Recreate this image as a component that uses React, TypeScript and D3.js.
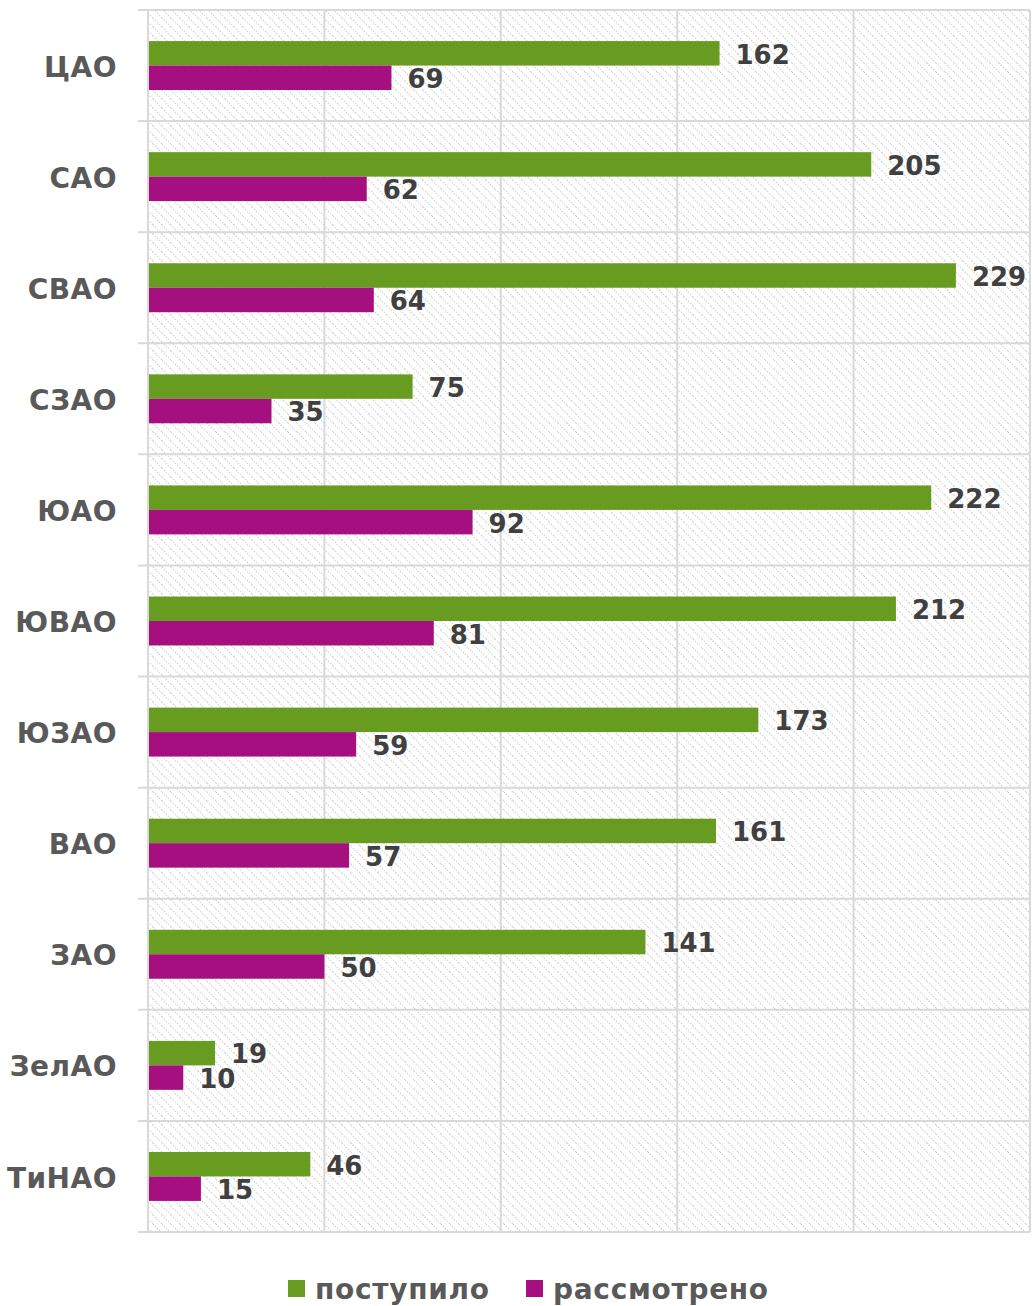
//grouped horizontal bar chart by district, drawn with d3
import React, { useEffect, useRef } from 'react';
import * as d3 from 'd3';

const districts = ['ЦАО', 'САО', 'СВАО', 'СЗАО', 'ЮАО', 'ЮВАО', 'ЮЗАО', 'ВАО', 'ЗАО', 'ЗелАО', 'ТиНАО'];
const received = [162, 205, 229, 75, 222, 212, 173, 161, 141, 19, 46];
const reviewed = [69, 62, 64, 35, 92, 81, 59, 57, 50, 10, 15];
const seriesNames = ['поступило', 'рассмотрено'];
const seriesColors = ['#689c20', '#a50f80'];
const xTicks = [0, 50, 100, 150, 200, 250];

const FONT = '"DejaVu Sans", sans-serif';

const App = () => {
    const ref = useRef<SVGSVGElement>(null);

    useEffect(() => {
        const svg = d3.select(ref.current);
        svg.selectAll('*').remove();

        const left = 148, right = 1030, top = 10, bottom = 1232;

        //hatched background
        const pat = svg.append('defs').append('pattern')
            .attr('id', 'hatch')
            .attr('patternUnits', 'userSpaceOnUse')
            .attr('width', 9).attr('height', 9);
        pat.append('rect').attr('width', 9).attr('height', 9).attr('fill', '#fff');
        pat.append('path')
            .attr('d', 'M-2,-2 L11,11 M-2,7 L2,11 M7,-2 L11,2')
            .attr('stroke', '#d6d6d6')
            .attr('stroke-width', 1.3)
            .attr('stroke-dasharray', '1.4 1.4');

        svg.append('rect')
            .attr('x', left).attr('y', top)
            .attr('width', right - left).attr('height', bottom - top)
            .attr('fill', 'url(#hatch)');

        const x = d3.scaleLinear().domain([0, 250]).range([left, right]);
        const y = d3.scaleBand().domain(districts).range([top, bottom]);
        const inner = d3.scaleBand().domain(seriesNames).range([0, y.bandwidth()]).paddingOuter(1.27);

        const grid = svg.append('g').attr('stroke', '#d9d9d9').attr('stroke-width', 2);
        //vertical gridlines
        xTicks.forEach(t => {
            grid.append('line').attr('x1', x(t)).attr('x2', x(t)).attr('y1', top).attr('y2', bottom);
        });
        //category separators
        districts.forEach(d => {
            grid.append('line').attr('x1', left - 10).attr('x2', right).attr('y1', y(d)!).attr('y2', y(d)!);
        });
        grid.append('line').attr('x1', left - 10).attr('x2', right).attr('y1', bottom).attr('y2', bottom);

        //bars
        const series = [received, reviewed];
        series.forEach((vals, si) => {
            const g = svg.append('g');
            g.selectAll('rect')
                .data(vals)
                .enter()
                .append('rect')
                    .attr('x', x(0) + 1)
                    .attr('y', (d, i) => y(districts[i])! + inner(seriesNames[si])!)
                    .attr('width', d => x(d) - x(0) - 1)
                    .attr('height', inner.bandwidth())
                    .attr('fill', seriesColors[si]);
            g.selectAll('text')
                .data(vals)
                .enter()
                .append('text')
                    .attr('x', d => x(d) + 16)
                    .attr('y', (d, i) => y(districts[i])! + inner(seriesNames[si])! + inner.bandwidth() / 2 + 1)
                    .attr('dy', '0.36em')
                    .attr('font-family', FONT)
                    .attr('font-weight', 'bold')
                    .attr('font-size', 26)
                    .attr('fill', '#404040')
                    .text(d => d);
        });

        //category labels
        svg.append('g').selectAll('text')
            .data(districts)
            .enter()
            .append('text')
                .attr('x', 117)
                .attr('y', d => y(d)! + y.bandwidth() / 2 + 1)
                .attr('dy', '0.36em')
                .attr('text-anchor', 'end')
                .attr('font-family', FONT)
                .attr('font-weight', 'bold')
                .attr('font-size', 28)
                .attr('letter-spacing', 0.5)
                .attr('fill', '#595959')
                .text(d => d);

        //legend
        const legendX = [288, 526];
        seriesNames.forEach((name, i) => {
            svg.append('rect')
                .attr('x', legendX[i]).attr('y', 1280)
                .attr('width', 17).attr('height', 17)
                .attr('fill', seriesColors[i]);
            svg.append('text')
                .attr('x', legendX[i] + 27).attr('y', 1289)
                .attr('dy', '0.36em')
                .attr('font-family', FONT)
                .attr('font-weight', 'bold')
                .attr('font-size', 28)
                .attr('letter-spacing', 0.7)
                .attr('fill', '#595959')
                .text(name);
        });
    }, []);

    return (
        <svg ref={ref} width={1033} height={1306} style={{ position: 'absolute', left: 0, top: 0 }}></svg>
    );
};

export default App;
